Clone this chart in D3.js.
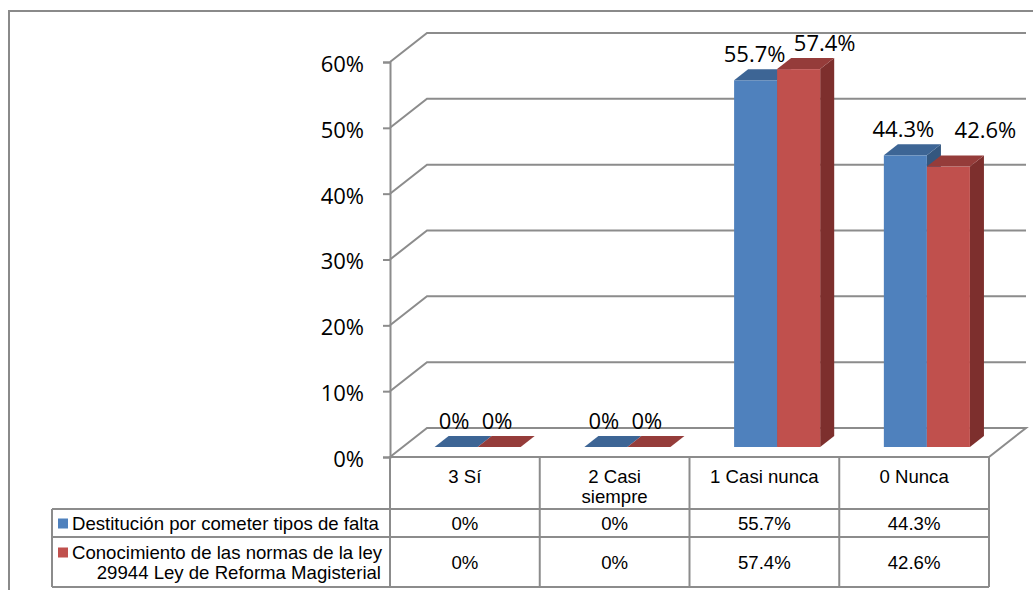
<!DOCTYPE html>
<html>
<head>
<meta charset="utf-8">
<script src="https://cdn.jsdelivr.net/npm/d3@7"></script>
<style>
  body { margin: 0; background: #fff; }
  svg { display: block; }
</style>
</head>
<body>
<svg id="chart" width="1033" height="590"></svg>
<script>
// ---- data ----
const categories = ["3 Sí", "2 Casi siempre", "1 Casi nunca", "0 Nunca"];
const seriesNames = [
  "Destitución por cometer tipos de falta",
  "Conocimiento de las normas de la ley 29944 Ley de Reforma Magisterial"
];
const destitucion = [0, 0, 0.557, 0.443];
const conocimiento = [0, 0, 0.574, 0.426];
const yTicks = [0, 0.1, 0.2, 0.3, 0.4, 0.5, 0.6];

const seriesValues = [destitucion, conocimiento];

// ---- styles / layout ----
const colors = [
  { front: "#4f81bd", top: "#3d6595", side: "#34577f" },
  { front: "#c0504d", top: "#953c3a", side: "#7d2f2d" }
];
const gridColor = "#8c8c8c";
const labelFont = "'Open Sans', 'Noto Sans', sans-serif";
const tableFont = "'Liberation Sans', Arial, sans-serif";

const plotLeft = 390, plotRight = 989;
const floorY = 457, topY = 62;
const depthX = 37, depthY = -29;              // full 3D depth of the floor
const barFront = 10 / 29, barDepth = 11 / 29; // bar placement within the depth

// label nudges (dx, dy) to keep neighbouring value labels apart
const labelNudge = [
  [[-2, 0], [-2, 0], [-1, 0], [-2, 0]],
  [[-2, 0], [-2, 0], [26, 0], [37, -11]]
];

const svg = d3.select("#chart");

const x = d3.scaleBand().domain(categories).range([plotLeft, plotRight]).padding(0);
const xs = d3.scaleBand().domain(d3.range(seriesNames.length))
  .range([0, x.bandwidth()]).paddingInner(0).paddingOuter(0.74);
const y = d3.scaleLinear().domain([0, 0.6]).range([floorY, topY]);

const fmt = v => (+(v * 100).toFixed(1)) + "%";

// ---- outer frame ----
svg.append("path")
  .attr("d", "M9,590 V11 H1040")
  .attr("fill", "none").attr("stroke", "#8a8a8a").attr("stroke-width", 2);

// ---- floor and back-wall grid ----
const grid = svg.append("g").attr("fill", "none").attr("stroke", gridColor).attr("stroke-width", 2);
grid.append("path")
  .attr("fill", "#fff")
  .attr("d", `M${plotLeft},${floorY} L${plotLeft + depthX},${floorY + depthY} H${plotRight + depthX} L${plotRight},${floorY} Z`);
yTicks.filter(t => t > 0).forEach(t => {
  grid.append("path")
    .attr("d", `M${plotLeft},${y(t)} L${plotLeft + depthX},${y(t) + depthY} H${plotRight + depthX}`);
});

// ---- y axis ----
const yAxis = d3.axisLeft(y).tickValues(yTicks).tickFormat(d => Math.round(d * 100) + "%")
  .tickSize(7).tickPadding(19);
const ag = svg.append("g").attr("transform", `translate(${plotLeft},0)`).call(yAxis);
ag.select(".domain").attr("stroke", gridColor).attr("stroke-width", 2);
ag.selectAll(".tick line").attr("stroke", gridColor).attr("stroke-width", 2);
ag.selectAll(".tick text")
  .attr("font-family", labelFont).attr("font-size", 22).attr("fill", "#000")
  .attr("dy", "0.43em");

// ---- 3D bars ----
const fx = depthX * barFront, fy = depthY * barFront;
const bx = depthX * barDepth, by = depthY * barDepth;
const bars = svg.append("g");
categories.forEach((c, ci) => {
  seriesValues.forEach((vals, si) => {
    const v = vals[ci];
    const x0 = x(c) + xs(si) + fx, x1 = x0 + xs.bandwidth();
    const yb = y(0) + fy, yt = y(v) + fy;
    const col = colors[si];
    const g = bars.append("g");
    if (v > 0) {
      g.append("path").attr("fill", col.side)
        .attr("d", `M${x1},${yb} L${x1 + bx},${yb + by} V${yt + by} L${x1},${yt} Z`);
      g.append("rect").attr("fill", col.front)
        .attr("x", x0).attr("y", yt).attr("width", x1 - x0).attr("height", yb - yt);
    }
    g.append("path").attr("fill", col.top)
      .attr("d", `M${x0},${yt} L${x0 + bx},${yt + by} H${x1 + bx} L${x1},${yt} Z`);
  });
});

// ---- value labels ----
const labels = svg.append("g")
  .attr("font-family", labelFont).attr("font-size", 22).attr("fill", "#000")
  .attr("text-anchor", "middle");
categories.forEach((c, ci) => {
  seriesValues.forEach((vals, si) => {
    const v = vals[ci];
    const cx = x(c) + xs(si) + fx + xs.bandwidth() / 2;
    const ty = y(v) + fy + by - 7;
    const [nx, ny] = labelNudge[si][ci];
    labels.append("text").attr("x", cx + nx).attr("y", ty + ny).text(fmt(v));
  });
});

// ---- data table ----
const tableFontSize = 18.6;
const headerBottom = 509, row1Bottom = 537, row2Bottom = 587;
const legendLeft = 52;
const rows = [[floorY, headerBottom], [headerBottom, row1Bottom], [row1Bottom, row2Bottom]];

const table = svg.append("g").attr("stroke", gridColor).attr("stroke-width", 2).attr("fill", "none");
// horizontal rules
table.append("line").attr("x1", plotLeft).attr("x2", plotRight).attr("y1", floorY).attr("y2", floorY);
[headerBottom, row1Bottom, row2Bottom].forEach(yy => {
  table.append("line").attr("x1", legendLeft).attr("x2", plotRight).attr("y1", yy).attr("y2", yy);
});
// vertical rules
table.append("line").attr("x1", legendLeft).attr("x2", legendLeft).attr("y1", headerBottom).attr("y2", row2Bottom);
categories.forEach(c => {
  table.append("line").attr("x1", x(c)).attr("x2", x(c)).attr("y1", floorY).attr("y2", row2Bottom);
});
table.append("line").attr("x1", plotRight).attr("x2", plotRight).attr("y1", floorY).attr("y2", row2Bottom);

const tt = svg.append("g").attr("font-family", tableFont).attr("font-size", tableFontSize).attr("fill", "#000");

// measure helper for wrapping
const measure = tt.append("text").attr("visibility", "hidden");
function textWidth(s) { measure.text(s); return measure.node().getComputedTextLength(); }
function wrap(s, maxW) {
  const words = s.split(" ");
  const lines = [];
  let cur = "";
  words.forEach(w => {
    const test = cur ? cur + " " + w : w;
    if (cur && textWidth(test) > maxW) { lines.push(cur); cur = w; }
    else cur = test;
  });
  if (cur) lines.push(cur);
  return lines;
}

const lineH = 20;
// category headers
categories.forEach(c => {
  const lines = wrap(c, 122);
  const t = tt.append("text").attr("text-anchor", "middle");
  lines.forEach((ln, i) => {
    t.append("tspan").attr("x", x(c) + x.bandwidth() / 2).attr("y", 483 + i * lineH).text(ln);
  });
});

// series rows: legend key + name, then values
const keyX = legendLeft + 6, textX = legendLeft + 20, textRight = 381;
seriesNames.forEach((name, si) => {
  const [r0, r1] = rows[si + 1];
  const lines = wrap(name, 322);
  const blockH = (lines.length - 1) * lineH;
  const firstBase = (r0 + r1) / 2 + 6.5 - blockH / 2;
  lines.forEach((ln, i) => {
    tt.append("text")
      .attr("text-anchor", i === 0 ? "start" : "end")
      .attr("x", i === 0 ? textX : textRight)
      .attr("y", firstBase + i * lineH).text(ln);
  });
  svg.append("rect").attr("fill", colors[si].front)
    .attr("x", keyX).attr("y", firstBase - 11).attr("width", 10).attr("height", 10);

  categories.forEach((c, ci) => {
    tt.append("text").attr("text-anchor", "middle")
      .attr("x", x(c) + x.bandwidth() / 2).attr("y", (r0 + r1) / 2 + 6.5)
      .text(fmt(seriesValues[si][ci]));
  });
});
measure.remove();
</script>
</body>
</html>
